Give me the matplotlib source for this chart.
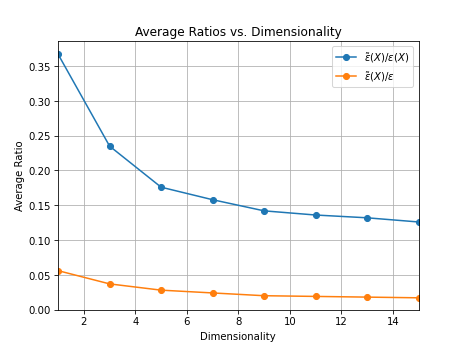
import matplotlib
matplotlib.use("Agg")
import matplotlib.pyplot as plt

dims = [1, 3, 5, 7, 9, 11, 13, 15]
ratio_x = [0.367, 0.235, 0.176, 0.158, 0.142, 0.136, 0.132, 0.126]
ratio_eps = [0.056, 0.037, 0.028, 0.024, 0.020, 0.019, 0.018, 0.017]

fig, ax = plt.subplots(figsize=(6.4, 4.8), dpi=72.66)
ax.plot(dims, ratio_x, marker='o', label=r'$\tilde{\epsilon}(X)/\epsilon(X)$')
ax.plot(dims, ratio_eps, marker='o', label=r'$\tilde{\epsilon}(X)/\epsilon$')
ax.set_xlim(1, 15)
ax.set_ylim(0, 0.386)
ax.set_xlabel('Dimensionality')
ax.set_ylabel('Average Ratio')
ax.set_title('Average Ratios vs. Dimensionality')
ax.grid(True)
ax.legend(loc='upper right')
fig.savefig('out.png', dpi=72.66)
